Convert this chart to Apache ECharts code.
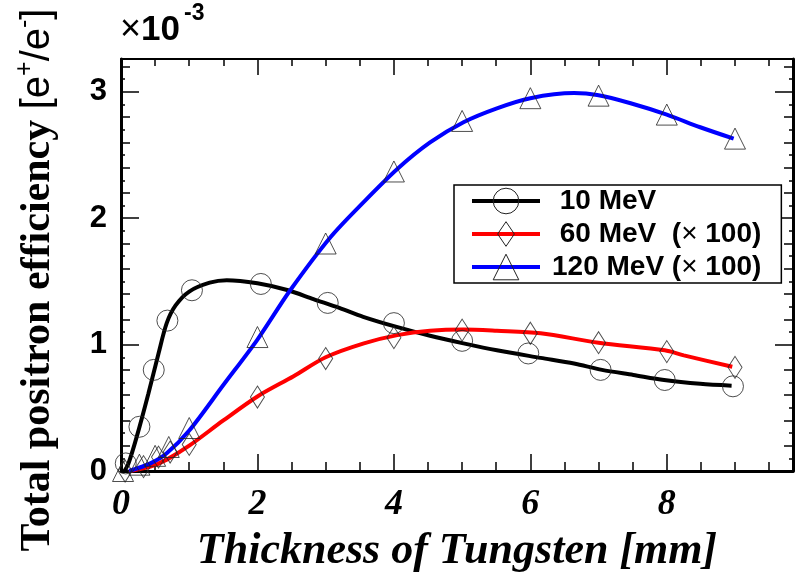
<!DOCTYPE html>
<html>
<head>
<meta charset="utf-8">
<script src="https://cdn.jsdelivr.net/npm/echarts@6/dist/echarts.min.js"></script>
<style>
  html, body { margin: 0; padding: 0; background: #fff; }
  #chart { width: 796px; height: 586px; }
</style>
</head>
<body>
<div id="chart"></div>
<script>
// series names (leading spaces match the legend text offsets)
const names = [' 10 MeV', ' 60 MeV  (\u00d7 100)', '120 MeV (\u00d7 100)'];

// measured points (markers), [thickness mm, efficiency x1e-3]
const pts10 = [[0.07, 0.06], [0.27, 0.35], [0.48, 0.80], [0.68, 1.19], [1.04, 1.43], [2.05, 1.48], [3.03, 1.33], [4.0, 1.17], [5.0, 1.03], [5.97, 0.93], [7.03, 0.80], [7.97, 0.72], [8.97, 0.67]];
const pts60 = [[0.06, 0.0], [0.33, 0.035], [0.55, 0.11], [0.72, 0.15], [1.0, 0.21], [2.0, 0.585], [3.0, 0.89], [4.0, 1.055], [5.0, 1.115], [6.0, 1.09], [7.0, 1.015], [8.0, 0.945], [9.0, 0.82]];
const pts120 = [[0.03, 0.0], [0.27, 0.05], [0.5, 0.12], [0.7, 0.19], [1.0, 0.34], [2.0, 1.06], [3.0, 1.80], [4.0, 2.37], [5.0, 2.77], [6.0, 2.95], [7.0, 2.97], [8.0, 2.82], [9.0, 2.63]];

// fitted curves
const fit10 = [[0.05, 0.0], [0.11, 0.06], [0.23, 0.27], [0.40, 0.61], [0.55, 0.93], [0.67, 1.17], [0.80, 1.31], [1.0, 1.42], [1.3, 1.49], [1.55, 1.51], [2.0, 1.485], [2.45, 1.43], [2.82, 1.36], [3.2, 1.29], [3.55, 1.22], [4.04, 1.14], [4.53, 1.07], [5.02, 1.01], [5.51, 0.955], [6.15, 0.895], [6.64, 0.85], [7.05, 0.80], [7.51, 0.76], [7.96, 0.72], [8.49, 0.69], [8.95, 0.675]];
const fit60 = [[0.12, 0.0], [0.43, 0.035], [0.67, 0.09], [1.0, 0.20], [1.5, 0.40], [2.0, 0.59], [2.53, 0.75], [3.0, 0.90], [3.56, 1.01], [4.05, 1.075], [4.53, 1.11], [5.02, 1.12], [5.51, 1.11], [6.15, 1.09], [7.0, 1.015], [7.97, 0.955], [8.25, 0.915], [8.96, 0.825]];
const fit120 = [[0.12, 0.0], [0.43, 0.06], [0.67, 0.14], [1.0, 0.32], [1.5, 0.68], [2.0, 1.04], [2.48, 1.43], [3.07, 1.85], [3.56, 2.13], [4.05, 2.39], [4.53, 2.60], [5.02, 2.76], [5.51, 2.87], [6.0, 2.95], [6.64, 2.99], [6.98, 2.975], [7.47, 2.91], [8.0, 2.82], [8.49, 2.72], [8.98, 2.63]];

const X_MAX = 9.85;
const Y_MAX = 3.26;

const colors = ['#000000', '#ff0000', '#0000ff'];
const markerStyle = { color: 'rgba(0,0,0,0)', borderColor: '#222', borderWidth: 1 };
// narrow diamond for the legend (outer moves keep a square bounding box)
const legendDiamond = 'path://M-13,-13M13,13M0,-12.5L8.5,0L0,12.5L-8.5,0Z';

const chart = echarts.init(document.getElementById('chart'), null, { renderer: 'canvas' });

function tickAxis(position, interval, len, lineWidth) {
    return {
        type: 'value', position: position, min: 0,
        max: (position === 'bottom' || position === 'top') ? X_MAX : Y_MAX,
        interval: interval,
        axisLine: lineWidth ? { show: true, onZero: false, lineStyle: { color: '#000', width: lineWidth } } : { show: false, onZero: false },
        axisTick: { show: true, inside: true, length: len, lineStyle: { color: '#000', width: 1.5 } },
        axisLabel: { show: false },
        splitLine: { show: false }
    };
}

const xMain = tickAxis('bottom', 2, 17, 3);
xMain.axisLabel = {
    show: true, margin: 16, color: '#000',
    fontFamily: 'Liberation Serif', fontStyle: 'italic', fontWeight: 'bold', fontSize: 36,
    formatter: function (v) { return v % 2 === 0 ? String(v) : ''; }
};
xMain.name = 'Thickness of Tungsten [mm]';
xMain.nameLocation = 'middle';
xMain.nameGap = 59;
xMain.nameMoveOverlap = false;
xMain.nameTextStyle = { fontFamily: 'Liberation Serif', fontStyle: 'italic', fontWeight: 'bold', fontSize: 44, color: '#000' };

const yMain = tickAxis('left', 1, 18, 3);
yMain.axisLabel = {
    show: true, margin: 14, color: '#000',
    fontFamily: 'Liberation Sans', fontWeight: 'bold', fontSize: 31,
    formatter: function (v) { return Number.isInteger(v) ? String(v) : ''; }
};

chart.setOption({
    animation: false,
    backgroundColor: '#fff',
    grid: { left: 121, right: 3, top: 59, bottom: 115, containLabel: false, outerBoundsMode: 'none' },
    xAxis: [
        xMain,
        tickAxis('bottom', 0.5, 9, 0),
        tickAxis('top', 2, 16, 2),
        tickAxis('top', 0.5, 7, 0)
    ],
    yAxis: [
        yMain,
        tickAxis('left', 0.2, 9, 0),
        tickAxis('left', 0.1, 4, 0),
        tickAxis('right', 1, 18, 3),
        tickAxis('right', 0.2, 9, 0),
        tickAxis('right', 0.1, 4, 0)
    ],
    legend: {
        orient: 'vertical', left: 454, top: 185,
        padding: [2, 20, 2, 16],
        itemGap: 5, itemWidth: 68, itemHeight: 32,
        borderColor: '#000', borderWidth: 1.5, backgroundColor: '#fff',
        selectedMode: false,
        itemStyle: markerStyle,
        lineStyle: { width: 4 },
        data: names,
        formatter: function (n) { return n.replace('\u00d7', '{x|\u00d7}'); },
        textStyle: {
            fontFamily: 'Liberation Sans', fontWeight: 'bold', fontSize: 28, color: '#000',
            padding: [0, 0, 0, 7],
            rich: { x: { fontFamily: 'Liberation Sans', fontWeight: 'normal', fontSize: 28, color: '#000' } }
        }
    },
    graphic: [
        {
            type: 'text', x: 38, y: 280, rotation: Math.PI / 2,
            style: {
                text: '{t|Total positron efficiency }{a|[e}{s|+}{a|/e}{s|-}{a|]}',
                align: 'center', verticalAlign: 'middle', fill: '#000',
                rich: {
                    t: { fontFamily: 'Liberation Serif', fontWeight: 'bold', fontSize: 42, lineHeight: 50, fill: '#000' },
                    a: { fontFamily: 'Liberation Sans', fontSize: 40, lineHeight: 50, fill: '#000' },
                    s: { fontFamily: 'Liberation Sans', fontSize: 25, lineHeight: 22, verticalAlign: 'top', fill: '#000' }
                }
            }
        },
        {
            type: 'text', x: 120, y: 30.5,
            style: {
                text: '{x|\u00d7}{b|10}', verticalAlign: 'middle', fill: '#000',
                rich: {
                    x: { fontFamily: 'Liberation Sans', fontSize: 36, fill: '#000' },
                    b: { fontFamily: 'Liberation Sans', fontWeight: 'bold', fontSize: 35, fill: '#000' }
                }
            }
        },
        {
            type: 'text', x: 184, y: 13.5,
            style: { text: '-3', fontFamily: 'Liberation Sans', fontWeight: 'bold', fontSize: 23, verticalAlign: 'middle', fill: '#000' }
        }
    ],
    series: [
        { type: 'line', name: names[0], data: fit10, smooth: 0.3, showSymbol: false, symbol: 'circle', lineStyle: { color: colors[0], width: 4 }, itemStyle: { color: colors[0] }, z: 2 },
        { type: 'line', name: names[1], data: fit60, smooth: 0.3, showSymbol: false, symbol: legendDiamond, lineStyle: { color: colors[1], width: 4 }, itemStyle: { color: colors[1] }, z: 2 },
        { type: 'line', name: names[2], data: fit120, smooth: 0.3, showSymbol: false, symbol: 'triangle', lineStyle: { color: colors[2], width: 4 }, itemStyle: { color: colors[2] }, z: 2 },
        { type: 'scatter', name: '10 MeV points', data: pts10, symbol: 'circle', symbolSize: 21, itemStyle: markerStyle, z: 3 },
        { type: 'scatter', name: '60 MeV points', data: pts60, symbol: 'diamond', symbolSize: [14, 22], itemStyle: markerStyle, z: 3 },
        { type: 'scatter', name: '120 MeV points', data: pts120, symbol: 'triangle', symbolSize: 21, itemStyle: markerStyle, z: 3 }
    ]
});
</script>
</body>
</html>
